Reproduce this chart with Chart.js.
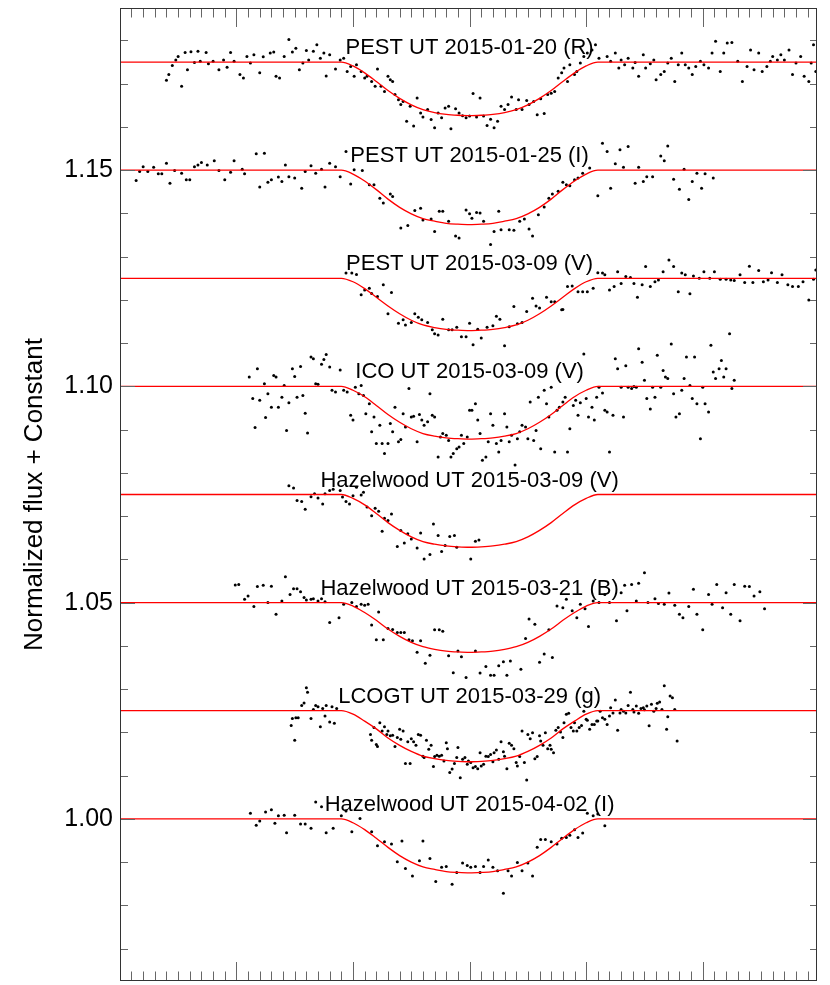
<!DOCTYPE html>
<html lang="en">
<head>
<meta charset="UTF-8">
<title>Transit light curves</title>
<script src="https://cdn.jsdelivr.net/npm/chart.js"></script>
<style>
  html, body { margin: 0; padding: 0; background: #fff; }
  #lc-chart { display: block; }
</style>
</head>
<body>
<canvas id="lc-chart" width="830" height="985"></canvas>
<script>
// x: hours from mid-transit, y: normalized flux + constant offset
const curveLabels = ['PEST UT 2015-01-20 (R)', 'PEST UT 2015-01-25 (I)', 'PEST UT 2015-03-09 (V)', 'ICO UT 2015-03-09 (V)',
  'Hazelwood UT 2015-03-09 (V)', 'Hazelwood UT 2015-03-21 (B)', 'LCOGT UT 2015-03-29 (g)', 'Hazelwood UT 2015-04-02 (I)'];
const baseLevels = [1.175, 1.15, 1.125, 1.10, 1.075, 1.05, 1.025, 1.00];

const yTickValues = [1.00, 1.05, 1.10, 1.15];

// observations
const x1 = [-2.60,-2.58,-2.55,-2.52,-2.50,-2.47,-2.44,-2.42,-2.39,-2.36,-2.33,-2.31,-2.26,-2.24,-2.20,-2.15,-2.11,-2.08,-2.05,-2.02,-1.97,-1.94,-1.91,-1.88,-1.85,-1.80,-1.77,-1.71,-1.68,-1.66,-1.63,-1.59,-1.55,-1.52,-1.49,-1.46,-1.43,-1.40,-1.38,-1.34,-1.31,-1.28,-1.25,-1.23,-1.20,-1.15,-1.11,-1.08,-1.05,-1.02,-0.99,-0.97,-0.93,-0.90,-0.88,-0.84,-0.81,-0.79,-0.76,-0.73,-0.70,-0.68,-0.66,-0.64,-0.61,-0.59,-0.57,-0.54,-0.51,-0.48,-0.45,-0.42,-0.40,-0.36,-0.33,-0.30,-0.27,-0.24,-0.21,-0.18,-0.16,-0.12,-0.09,-0.06,-0.03,0.00,0.03,0.06,0.09,0.12,0.15,0.18,0.21,0.24,0.27,0.30,0.33,0.36,0.40,0.42,0.45,0.49,0.51,0.55,0.58,0.61,0.64,0.67,0.70,0.73,0.76,0.79,0.81,0.84,0.86,0.90,0.92,0.95,0.98,1.01,1.05,1.08,1.11,1.18,1.21,1.25,1.28,1.30,1.33,1.36,1.40,1.42,1.45,1.49,1.51,1.55,1.58,1.60,1.64,1.67,1.70,1.73,1.76,1.79,1.82,1.85,1.88,1.91,1.94,1.98,2.01,2.05,2.08,2.11,2.15,2.18,2.21,2.25,2.30,2.34,2.38,2.41,2.44,2.48,2.51,2.55,2.58,2.60,2.64,2.67,2.70,2.74,2.77,2.80,2.84,2.87,2.91,2.93,2.95,2.97];
const y1 = [1.1708,1.1721,1.1742,1.1755,1.1763,1.1694,1.1772,1.1732,1.1774,1.1749,1.1775,1.1752,1.1772,1.1746,1.1752,1.1732,1.1755,1.1738,1.1772,1.1752,1.1721,1.1713,1.1763,1.1748,1.1767,1.1725,1.1762,1.1771,1.1773,1.1717,1.1713,1.1763,1.1802,1.1773,1.1782,1.1732,1.1748,1.1777,1.1755,1.1775,1.1790,1.1759,1.1771,1.1718,1.1767,1.1734,1.1755,1.1759,1.1728,1.1740,1.1717,1.1744,1.1728,1.1713,1.1717,1.1705,1.1694,1.1734,1.1694,1.1682,1.1717,1.1709,1.1705,1.1675,1.1663,1.1652,1.1659,1.1613,1.1648,1.1602,1.1667,1.1632,1.1623,1.1640,1.1617,1.1598,1.1632,1.1621,1.1644,1.1648,1.1596,1.1642,1.1632,1.1626,1.1621,1.1625,1.1677,1.1623,1.1667,1.1625,1.1603,1.1618,1.1598,1.1613,1.1648,1.1640,1.1652,1.1669,1.1640,1.1663,1.1640,1.1661,1.1652,1.1659,1.1628,1.1665,1.1631,1.1675,1.1678,1.1682,1.1713,1.1725,1.1736,1.1705,1.1744,1.1721,1.1728,1.1748,1.1763,1.1771,1.1778,1.1790,1.1759,1.1763,1.1752,1.1771,1.1736,1.1755,1.1744,1.1759,1.1736,1.1749,1.1717,1.1767,1.1736,1.1746,1.1755,1.1709,1.1721,1.1728,1.1748,1.1759,1.1705,1.1744,1.1771,1.1744,1.1736,1.1721,1.1740,1.1752,1.1744,1.1736,1.1771,1.1798,1.1728,1.1771,1.1794,1.1795,1.1752,1.1705,1.1740,1.1778,1.1732,1.1771,1.1728,1.1740,1.1752,1.1763,1.1755,1.1767,1.1755,1.1778,1.1721,1.1748,1.1763,1.1717,1.1705,1.1748,1.1790,1.1728];

const x2 = [-2.86,-2.83,-2.80,-2.76,-2.71,-2.67,-2.64,-2.60,-2.57,-2.53,-2.47,-2.43,-2.40,-2.36,-2.33,-2.30,-2.25,-2.19,-2.15,-2.10,-2.05,-2.02,-1.95,-1.93,-1.83,-1.80,-1.76,-1.73,-1.70,-1.64,-1.61,-1.58,-1.55,-1.50,-1.44,-1.41,-1.36,-1.32,-1.27,-1.24,-1.20,-1.15,-1.11,-1.06,-1.02,-0.99,-0.92,-0.86,-0.82,-0.77,-0.74,-0.68,-0.66,-0.59,-0.53,-0.47,-0.42,-0.40,-0.33,-0.30,-0.26,-0.23,-0.18,-0.12,-0.09,-0.03,0.00,0.02,0.06,0.09,0.12,0.18,0.21,0.25,0.27,0.34,0.38,0.43,0.47,0.51,0.54,0.59,0.64,0.68,0.71,0.76,0.80,0.83,0.86,0.90,0.93,0.97,1.03,1.10,1.14,1.18,1.21,1.25,1.29,1.32,1.36,1.42,1.45,1.49,1.52,1.57,1.64,1.67,1.70,1.75,1.80,1.84,1.88,1.91,1.95,1.99,2.02,2.09];
const y2 = [1.1476,1.1497,1.1508,1.1497,1.1507,1.1492,1.1492,1.1516,1.1470,1.1499,1.1493,1.1478,1.1478,1.1508,1.1512,1.1518,1.1512,1.1522,1.1499,1.1478,1.1495,1.1522,1.1502,1.1492,1.1538,1.1461,1.1539,1.1472,1.1478,1.1484,1.1474,1.1512,1.1485,1.1482,1.1458,1.1497,1.1510,1.1493,1.1502,1.1461,1.1516,1.1508,1.1485,1.1543,1.1468,1.1501,1.1499,1.1466,1.1466,1.1435,1.1424,1.1445,1.1439,1.1366,1.1372,1.1407,1.1412,1.1385,1.1387,1.1358,1.1405,1.1405,1.1382,1.1348,1.1343,1.1408,1.1399,1.1389,1.1402,1.1401,1.1382,1.1328,1.1358,1.1405,1.1362,1.1362,1.1361,1.1382,1.1387,1.1364,1.1348,1.1397,1.1415,1.1435,1.1445,1.1451,1.1472,1.1466,1.1464,1.1478,1.1482,1.1493,1.1505,1.1441,1.1562,1.1543,1.1458,1.1515,1.1547,1.1507,1.1555,1.1470,1.1507,1.1474,1.1485,1.1485,1.1533,1.1522,1.1556,1.1479,1.1456,1.1502,1.1432,1.1474,1.1493,1.1458,1.1492,1.1482];

const x3 = [-1.06,-1.01,-0.97,-0.93,-0.90,-0.86,-0.84,-0.79,-0.74,-0.70,-0.67,-0.61,-0.57,-0.55,-0.50,-0.47,-0.44,-0.41,-0.36,-0.32,-0.30,-0.27,-0.23,-0.18,-0.15,-0.11,-0.07,-0.03,0.00,0.03,0.07,0.10,0.15,0.20,0.23,0.26,0.30,0.34,0.38,0.41,0.45,0.49,0.54,0.57,0.60,0.66,0.70,0.73,0.79,0.80,0.84,0.88,0.93,0.97,1.01,1.06,1.10,1.14,1.16,1.20,1.24,1.27,1.30,1.34,1.38,1.41,1.44,1.48,1.51,1.55,1.59,1.62,1.66,1.71,1.75,1.79,1.82,1.85,1.89,1.92,1.97,2.01,2.06,2.10,2.15,2.20,2.24,2.27,2.32,2.36,2.40,2.43,2.48,2.52,2.56,2.59,2.64,2.68,2.73,2.77,2.82,2.86,2.91,2.95,2.97];
const y3 = [1.1262,1.1262,1.1259,1.1212,1.1223,1.1227,1.1215,1.1208,1.1235,1.1168,1.1217,1.1146,1.1154,1.1142,1.1148,1.1168,1.1160,1.1154,1.1148,1.1131,1.1122,1.1119,1.1155,1.1131,1.1131,1.1137,1.1115,1.1115,1.1146,1.1096,1.1132,1.1112,1.1137,1.1140,1.1162,1.1155,1.1094,1.1138,1.1185,1.1145,1.1148,1.1173,1.1204,1.1186,1.1181,1.1206,1.1196,1.1196,1.1177,1.1178,1.1231,1.1232,1.1219,1.1219,1.1219,1.1227,1.1263,1.1262,1.1258,1.1223,1.1231,1.1265,1.1238,1.1254,1.1252,1.1238,1.1206,1.1235,1.1277,1.1231,1.1242,1.1246,1.1265,1.1292,1.1277,1.1219,1.1262,1.1258,1.1214,1.1255,1.1250,1.1265,1.1250,1.1265,1.1248,1.1248,1.1246,1.1245,1.1258,1.1240,1.1278,1.1240,1.1268,1.1242,1.1246,1.1263,1.1240,1.1258,1.1235,1.1231,1.1231,1.1242,1.1200,1.1248,1.1269];

const x4 = [-1.89,-1.86,-1.84,-1.82,-1.80,-1.76,-1.75,-1.73,-1.70,-1.68,-1.66,-1.64,-1.61,-1.59,-1.57,-1.55,-1.52,-1.50,-1.48,-1.45,-1.43,-1.41,-1.39,-1.36,-1.34,-1.32,-1.30,-1.27,-1.25,-1.23,-1.20,-1.18,-1.15,-1.11,-1.08,-1.05,-1.02,-1.00,-0.98,-0.95,-0.93,-0.91,-0.89,-0.86,-0.84,-0.82,-0.80,-0.77,-0.75,-0.73,-0.70,-0.68,-0.66,-0.64,-0.61,-0.59,-0.57,-0.55,-0.52,-0.50,-0.48,-0.45,-0.43,-0.41,-0.39,-0.36,-0.34,-0.32,-0.30,-0.27,-0.25,-0.23,-0.20,-0.18,-0.16,-0.14,-0.11,-0.09,-0.07,-0.05,-0.02,0.00,0.02,0.05,0.07,0.09,0.11,0.14,0.16,0.18,0.20,0.23,0.25,0.27,0.30,0.32,0.34,0.36,0.39,0.41,0.43,0.45,0.48,0.50,0.52,0.55,0.57,0.59,0.61,0.64,0.66,0.68,0.70,0.73,0.75,0.77,0.80,0.82,0.84,0.86,0.89,0.91,0.93,0.95,0.98,1.00,1.02,1.05,1.07,1.09,1.11,1.14,1.16,1.18,1.20,1.23,1.25,1.27,1.30,1.32,1.34,1.36,1.39,1.41,1.43,1.45,1.48,1.50,1.52,1.55,1.57,1.59,1.61,1.64,1.66,1.68,1.70,1.73,1.75,1.77,1.80,1.82,1.84,1.86,1.89,1.91,1.93,1.95,1.98,2.00,2.02,2.05,2.07,2.09,2.11,2.14,2.16,2.18,2.20,2.23,2.25,2.27];
const y4 = [1.1022,1.0972,1.0905,1.1041,1.0968,1.1006,1.0928,1.0983,1.0952,1.1025,1.1022,1.0952,1.0975,1.1002,1.0898,1.0962,1.1041,1.1023,1.0975,1.1046,1.0979,1.0938,1.0892,1.1068,1.1064,1.1006,1.1005,1.1051,1.1062,1.1074,1.1045,1.0991,1.0987,1.1038,1.0991,1.0987,1.0933,1.0922,1.0998,1.0983,1.1002,1.0979,1.0937,1.0960,1.0895,1.0929,1.0868,1.0910,1.0868,1.0845,1.0868,1.0914,1.0895,1.0952,1.0872,1.0877,1.0937,1.0906,1.0995,1.0929,1.0931,1.0872,1.0935,1.0922,1.0910,1.0918,1.0983,1.0933,1.0929,1.0837,1.0883,1.0891,1.0887,1.0875,1.0837,1.0845,1.0856,1.0860,1.0887,1.0868,1.0883,1.0945,1.0945,1.0960,1.0922,1.0891,1.0829,1.0837,1.0872,1.0937,1.0910,1.0868,1.0848,1.0875,1.0937,1.0906,1.0872,1.0887,1.0818,1.0879,1.0895,1.0910,1.0906,1.0879,1.0964,1.0875,1.0898,1.0975,1.0856,1.0991,1.0960,1.0929,1.0998,1.0848,1.0945,1.0952,1.0964,1.0975,1.0848,1.0902,1.0956,1.0968,1.0933,1.0962,1.1075,1.0972,1.0929,1.0952,1.0922,1.0975,1.0998,1.0985,1.0945,1.0941,1.0848,1.0933,1.1064,1.1041,1.0998,1.0929,1.1048,1.0998,1.0995,1.1000,1.0998,1.1087,1.1056,1.1014,1.0972,1.0948,1.0998,1.0975,1.1072,1.0998,1.1037,1.1022,1.1018,1.1098,1.0983,1.0929,1.0937,1.0991,1.1018,1.1068,1.1002,1.0972,1.1068,1.0960,1.0879,1.0998,1.0960,1.0941,1.1095,1.1033,1.1018,1.1041,1.1060,1.1022,1.1041,1.1122,1.0995,1.1014];

const x5 = [-1.55,-1.51,-1.48,-1.44,-1.41,-1.36,-1.33,-1.30,-1.26,-1.24,-1.20,-1.17,-1.11,-1.09,-1.06,-1.03,-1.00,-0.97,-0.93,-0.91,-0.88,-0.84,-0.81,-0.78,-0.75,-0.73,-0.70,-0.67,-0.62,-0.59,-0.56,-0.53,-0.50,-0.45,-0.42,-0.39,-0.34,-0.31,-0.27,-0.24,-0.21,-0.17,-0.13,-0.11,0.01,0.05,0.08];
const y5 = [1.0770,1.0765,1.0736,1.0734,1.0716,1.0745,1.0752,1.0742,1.0728,1.0752,1.0759,1.0762,1.0759,1.0744,1.0734,1.0728,1.0747,1.0767,1.0749,1.0755,1.0721,1.0701,1.0718,1.0711,1.0665,1.0695,1.0690,1.0705,1.0630,1.0667,1.0638,1.0659,1.0647,1.0626,1.0661,1.0601,1.0611,1.0682,1.0655,1.0618,1.0632,1.0653,1.0655,1.0628,1.0601,1.0642,1.0645];

const x6 = [-2.01,-1.98,-1.93,-1.90,-1.85,-1.82,-1.77,-1.73,-1.70,-1.66,-1.61,-1.58,-1.54,-1.51,-1.48,-1.45,-1.42,-1.40,-1.36,-1.34,-1.30,-1.27,-1.24,-1.20,-1.12,-1.08,-1.01,-0.97,-0.93,-0.90,-0.87,-0.84,-0.80,-0.78,-0.74,-0.70,-0.66,-0.62,-0.59,-0.56,-0.52,-0.49,-0.45,-0.42,-0.38,-0.34,-0.30,-0.26,-0.23,-0.18,-0.14,-0.10,-0.07,-0.03,0.05,0.09,0.14,0.18,0.21,0.25,0.29,0.32,0.35,0.44,0.48,0.51,0.56,0.60,0.64,0.68,0.71,0.75,0.80,0.83,0.88,0.92,0.95,0.99,1.02,1.06,1.11,1.16,1.20,1.26,1.30,1.33,1.35,1.39,1.43,1.45,1.50,1.53,1.59,1.62,1.67,1.71,1.76,1.80,1.83,1.88,1.92,1.95,2.00,2.05,2.08,2.12,2.17,2.20,2.24,2.27,2.32,2.36,2.40,2.44,2.49,2.53];
const y6 = [1.0541,1.0542,1.0508,1.0515,1.0491,1.0537,1.0540,1.0500,1.0538,1.0473,1.0504,1.0560,1.0519,1.0532,1.0532,1.0525,1.0512,1.0506,1.0508,1.0509,1.0504,1.0509,1.0502,1.0454,1.0465,1.0496,1.0500,1.0491,1.0496,1.0494,1.0496,1.0448,1.0414,1.0478,1.0414,1.0440,1.0438,1.0431,1.0431,1.0431,1.0414,1.0412,1.0385,1.0412,1.0360,1.0378,1.0437,1.0437,1.0434,1.0377,1.0338,1.0388,1.0375,1.0327,1.0388,1.0337,1.0352,1.0332,1.0332,1.0354,1.0363,1.0332,1.0365,1.0346,1.0417,1.0462,1.0450,1.0362,1.0381,1.0437,1.0373,1.0492,1.0488,1.0508,1.0481,1.0465,1.0496,1.0486,1.0445,1.0504,1.0500,1.0519,1.0500,1.0458,1.0523,1.0540,1.0481,1.0542,1.0504,1.0545,1.0569,1.0500,1.0509,1.0498,1.0496,1.0522,1.0494,1.0473,1.0465,1.0491,1.0531,1.0473,1.0437,1.0519,1.0496,1.0542,1.0488,1.0523,1.0473,1.0542,1.0458,1.0538,1.0537,1.0515,1.0525,1.0486];

const x7 = [-1.53,-1.52,-1.50,-1.49,-1.47,-1.44,-1.42,-1.40,-1.39,-1.36,-1.34,-1.32,-1.30,-1.28,-1.26,-1.24,-1.23,-1.20,-1.18,-1.16,-1.14,
  -0.85,-0.84,-0.82,-0.80,
  -0.79,-0.77,-0.75,-0.73,-0.71,-0.70,-0.68,-0.66,-0.64,-0.62,-0.60,-0.59,-0.57,-0.55,-0.53,-0.51,-0.50,-0.48,-0.46,-0.44,-0.42,-0.40,-0.39,-0.37,-0.35,-0.33,-0.31,-0.30,-0.28,-0.26,-0.24,-0.22,-0.20,-0.19,-0.17,-0.15,-0.13,-0.11,-0.10,-0.08,-0.06,-0.04,-0.02,-0.01,0.01,0.03,0.05,0.07,0.09,0.10,0.12,0.14,0.16,0.18,0.20,0.21,0.23,0.25,0.27,0.29,0.30,0.32,0.34,0.36,0.38,0.40,0.41,0.43,0.45,0.47,0.49,0.50,0.52,0.54,0.56,0.58,0.60,0.61,0.63,0.65,0.67,0.69,0.70,0.72,0.74,0.76,0.78,0.80,0.81,0.83,0.85,0.87,0.89,0.90,0.92,0.94,0.96,0.98,1.00,1.01,1.03,1.05,1.07,1.09,1.10,1.12,1.14,1.16,1.18,1.20,1.21,1.23,1.25,1.27,1.29,1.30,1.32,1.34,1.36,1.38,1.40,1.41,1.43,1.45,1.47,1.49,1.50,1.52,1.54,1.56,1.58,1.60,1.61,1.63,1.65,1.67,1.69,1.70,1.72,1.74,1.76,1.78];
const y7 = [1.0216,1.0232,1.0182,1.0234,1.0234,1.0262,1.0268,1.0303,1.0293,1.0232,1.0253,1.0262,1.0259,1.0213,1.0255,1.0238,1.0262,1.0224,1.0259,1.0221,1.0255,
  1.0195,1.0182,1.0211,1.0172,
  1.0167,1.0222,1.0203,1.0213,1.0195,1.0203,1.0192,1.0193,1.0167,1.0188,1.0207,1.0184,1.0203,1.0128,1.0178,1.0128,1.0185,1.0178,1.0170,1.0195,1.0193,1.0145,1.0142,1.0182,1.0161,1.0170,1.0121,1.0144,1.0147,1.0145,1.0147,1.0134,1.0176,1.0162,1.0107,1.0115,1.0128,1.0142,1.0165,1.0095,1.0138,1.0142,1.0126,1.0134,1.0130,1.0118,1.0121,1.0116,1.0153,1.0122,1.0126,1.0145,1.0144,1.0149,1.0132,1.0153,1.0159,1.0138,1.0178,1.0155,1.0145,1.0116,1.0175,1.0170,1.0162,1.0130,1.0122,1.0144,1.0203,1.0130,1.0090,1.0195,1.0185,1.0199,1.0139,1.0144,1.0192,1.0180,1.0170,1.0199,1.0162,1.0170,1.0161,1.0153,1.0205,1.0211,1.0201,1.0188,1.0222,1.0242,1.0244,1.0211,1.0203,1.0222,1.0203,1.0211,1.0216,1.0249,1.0230,1.0228,1.0207,1.0218,1.0218,1.0226,1.0226,1.0249,1.0234,1.0230,1.0218,1.0238,1.0257,1.0245,1.0275,1.0205,1.0245,1.0253,1.0249,1.0245,1.0262,1.0293,1.0253,1.0247,1.0261,1.0244,1.0255,1.0257,1.0252,1.0261,1.0215,1.0265,1.0249,1.0255,1.0267,1.0270,1.0253,1.0308,1.0207,1.0236,1.0284,1.0280,1.0253,1.0180];

const x8 = [-1.88,-1.83,-1.80,-1.75,-1.70,-1.67,-1.64,-1.59,-1.57,-1.50,-1.45,-1.41,-1.36,-1.32,-1.27,-1.23,-1.17,-1.10,-1.06,-1.01,-0.94,-0.84,-0.79,-0.73,-0.67,-0.62,-0.58,-0.55,-0.49,-0.43,-0.40,-0.34,-0.29,-0.24,-0.20,-0.15,-0.11,-0.06,-0.02,0.01,0.05,0.09,0.12,0.16,0.20,0.24,0.29,0.33,0.36,0.41,0.45,0.50,0.54,0.58,0.61,0.65,0.70,0.75,0.79,0.83,0.86,0.90,0.93,0.97,1.01,1.06,1.10,1.16];
const y8 = [1.0013,0.9985,0.9995,1.0016,1.0021,0.9990,1.0007,1.0008,0.9968,1.0008,0.9988,0.9988,0.9978,1.0039,1.0028,0.9968,0.9978,1.0007,1.0018,0.9970,1.0001,0.9970,0.9938,0.9947,0.9942,0.9901,0.9949,0.9885,0.9868,0.9903,0.9949,0.9908,0.9855,0.9888,0.9890,0.9849,0.9876,0.9898,0.9892,0.9888,0.9890,0.9876,0.9890,0.9905,0.9888,0.9880,0.9828,0.9880,0.9868,0.9899,0.9880,0.9898,0.9868,0.9934,0.9952,0.9952,0.9947,0.9942,0.9955,0.9957,0.9962,0.9975,0.9957,0.9967,1.0013,1.0007,1.0011,0.9984];

// fitted transit models
const modelX = [-2.99,-1.1,-1.0,-0.9,-0.8,-0.7,-0.6,-0.5,-0.4,-0.3,-0.2,-0.1,0,0.1,0.2,0.3,0.4,0.5,0.6,0.7,0.8,0.9,1.0,1.1,2.98];
const model1 = [1.1750,1.1750,1.1741,1.1725,1.1705,1.1684,1.1666,1.1651,1.1640,1.1633,1.1629,1.1627,1.1626,1.1627,1.1629,1.1633,1.1640,1.1651,1.1666,1.1684,1.1705,1.1725,1.1741,1.1750,1.1750];
const model2 = [1.1500,1.1500,1.1491,1.1475,1.1455,1.1433,1.1414,1.1399,1.1388,1.1382,1.1377,1.1375,1.1374,1.1375,1.1377,1.1382,1.1388,1.1399,1.1414,1.1433,1.1455,1.1475,1.1491,1.1500,1.1500];
const model3 = [1.1250,1.1250,1.1242,1.1226,1.1206,1.1186,1.1168,1.1153,1.1142,1.1136,1.1132,1.1130,1.1129,1.1130,1.1132,1.1136,1.1142,1.1153,1.1168,1.1186,1.1206,1.1226,1.1242,1.1250,1.1250];
const model4 = [1.1000,1.1000,1.0991,1.0976,1.0956,1.0935,1.0917,1.0902,1.0891,1.0885,1.0881,1.0879,1.0878,1.0879,1.0881,1.0885,1.0891,1.0902,1.0917,1.0935,1.0956,1.0976,1.0991,1.1000,1.1000];
const model5 = [1.0750,1.0750,1.0741,1.0726,1.0706,1.0685,1.0667,1.0652,1.0641,1.0635,1.0631,1.0629,1.0628,1.0629,1.0631,1.0635,1.0641,1.0652,1.0667,1.0685,1.0706,1.0726,1.0741,1.0750,1.0750];
const model6 = [1.0500,1.0500,1.0492,1.0477,1.0459,1.0439,1.0422,1.0408,1.0398,1.0392,1.0388,1.0386,1.0385,1.0386,1.0388,1.0392,1.0398,1.0408,1.0422,1.0439,1.0459,1.0477,1.0492,1.0500,1.0500];
const model7 = [1.0250,1.0250,1.0242,1.0226,1.0208,1.0187,1.0170,1.0156,1.0145,1.0139,1.0135,1.0133,1.0132,1.0133,1.0135,1.0139,1.0145,1.0156,1.0170,1.0187,1.0208,1.0226,1.0242,1.0250,1.0250];
const model8 = [1.0000,1.0000,0.9991,0.9975,0.9955,0.9934,0.9915,0.9900,0.9889,0.9883,0.9878,0.9876,0.9875,0.9876,0.9878,0.9883,0.9889,0.9900,0.9915,0.9934,0.9955,0.9975,0.9991,1.0000,1.0000];

const obsX = [x1, x2, x3, x4, x5, x6, x7, x8];
const obsY = [y1, y2, y3, y4, y5, y6, y7, y8];
const models = [model1, model2, model3, model4, model5, model6, model7, model8];

const FONT = '"Liberation Sans", Arial, Helvetica, sans-serif';

function toPoints(xs, ys) {
    const pts = [];
    for (let i = 0; i < Math.min(xs.length, ys.length); i++) pts.push({ x: xs[i], y: ys[i] });
    return pts;
}

const datasets = [];
models.forEach((m, i) => {
    datasets.push({
        type: 'line',
        label: curveLabels[i] + ' model',
        data: toPoints(modelX, m),
        borderColor: '#ff0000',
        borderWidth: 1.3,
        pointRadius: 0,
        showLine: true,
        fill: false,
        cubicInterpolationMode: 'monotone',
        order: 0
    });
});
obsX.forEach((xs, i) => {
    datasets.push({
        label: curveLabels[i],
        data: toPoints(xs, obsY[i]),
        backgroundColor: '#000',
        borderWidth: 0,
        pointRadius: 1.5,
        order: 1
    });
});

// box, inward ticks and curve labels
const framePlugin = {
    id: 'frame',
    afterDatasetsDraw(chart) {
        const { ctx, chartArea: a, scales: { x, y } } = chart;
        ctx.save();
        ctx.strokeStyle = '#666';
        ctx.lineWidth = 1;
        ctx.beginPath();
        for (let i = -29; i <= 29; i++) {
            const px = Math.round(x.getPixelForValue(i / 10)) + 0.5;
            const len = i % 10 === 0 ? 19 : 9.5;
            ctx.moveTo(px, a.bottom); ctx.lineTo(px, a.bottom - len);
            ctx.moveTo(px, a.top); ctx.lineTo(px, a.top + len);
        }
        for (let i = 97; i <= 118; i++) {
            const py = Math.round(y.getPixelForValue(i / 100)) + 0.5;
            const len = i % 5 === 0 ? 14 : 7;
            ctx.moveTo(a.left, py); ctx.lineTo(a.left + len, py);
            ctx.moveTo(a.right, py); ctx.lineTo(a.right - len, py);
        }
        ctx.stroke();

        ctx.strokeStyle = '#333';
        ctx.strokeRect(a.left - 0.5, a.top + 0.5, a.right - a.left, a.bottom - a.top - 1);

        ctx.fillStyle = '#000';
        ctx.font = '22px ' + FONT;
        ctx.textAlign = 'center';
        ctx.textBaseline = 'alphabetic';
        curveLabels.forEach((t, i) => {
            ctx.fillText(t, x.getPixelForValue(0), y.getPixelForValue(baseLevels[i]) - 8);
        });
        ctx.restore();
    }
};

new Chart(document.getElementById('lc-chart'), {
    type: 'scatter',
    data: { datasets: datasets },
    options: {
        responsive: false,
        animation: false,
        devicePixelRatio: 1,
        events: [],
        layout: { padding: { left: 0, right: 13, top: 8, bottom: 3 } },
        plugins: { legend: { display: false }, tooltip: { enabled: false } },
        scales: {
            x: { type: 'linear', min: -2.99, max: 2.98, display: false },
            y: {
                type: 'linear',
                min: 0.9625,
                max: 1.1875,
                afterBuildTicks: s => { s.ticks = yTickValues.map(v => ({ value: v })); },
                afterFit: s => { s.width = 121; s.paddingTop = 0; s.paddingBottom = 0; },
                grid: { display: false, drawTicks: false },
                border: { display: false },
                ticks: {
                    autoSkip: false,
                    padding: 8,
                    color: '#000',
                    font: { family: FONT, size: 25 },
                    callback: v => v.toFixed(2)
                },
                title: {
                    display: true,
                    text: 'Normalized flux + Constant',
                    color: '#000',
                    font: { family: FONT, size: 26 },
                    padding: { top: 19, bottom: 0 }
                }
            }
        }
    },
    plugins: [framePlugin]
});
</script>
</body>
</html>
